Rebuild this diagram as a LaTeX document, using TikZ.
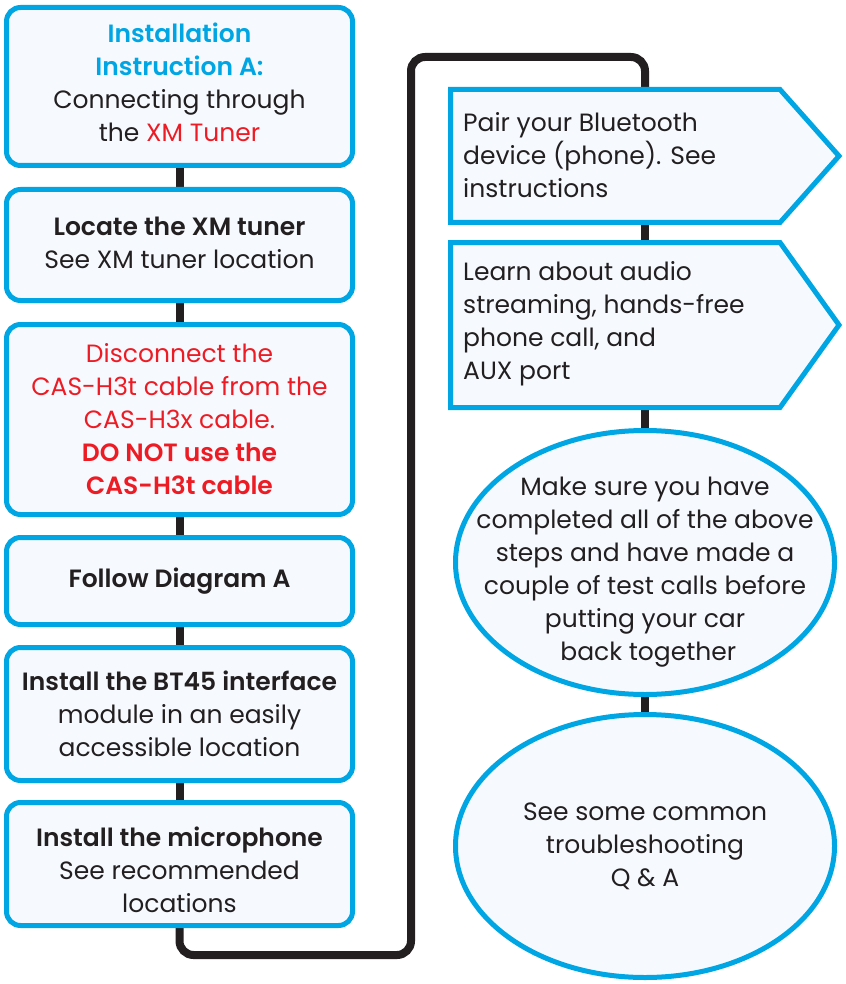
\documentclass[tikz,border=0pt]{standalone}
\usepackage{fontspec}
\setmainfont{Poppins}[BoldFont={Poppins SemiBold}]
\usetikzlibrary{shapes.geometric,backgrounds}
\definecolor{cblue}{HTML}{00A6E4}
\definecolor{cred}{HTML}{ED1C24}
\definecolor{cfill}{HTML}{F6FAFE}
\definecolor{cblack}{HTML}{231F20}
\begin{document}
\begin{tikzpicture}[x=1pt,y=-1pt,
  txt/.style={font=\fontsize{25}{33}\selectfont, text=cblack, inner sep=0pt},
  ctxt/.style={txt, align=center},
  stepbox/.style={draw=cblue, line width=5pt, fill=cfill, rounded corners=14pt,
     minimum width=346pt, inner sep=0pt, outer sep=0pt},
  flag/.style={draw=cblue, line width=5pt, fill=cfill, line join=miter},
  oval/.style={ellipse, draw=cblue, line width=5pt, fill=cfill, inner sep=0pt, outer sep=0pt},
  conn/.style={draw=cblack, line width=8pt}]
\useasboundingbox (0,0) rectangle (845,984);

% left column
\node[stepbox, minimum height=158pt] (b1) at (179.5,86.5) {};
\node[ctxt] (b1t) at (179.5,82.5)
  {\textcolor{cblue}{\bfseries Installation}\\ \textcolor{cblue}{\bfseries Instruction A:}\\ Connecting through\\ the \textcolor{cred}{XM Tuner}};
\node[stepbox, minimum height=111pt] (b2) at (179.5,245) {};
\node[ctxt] (b2t) at (179.5,243)
  {\bfseries Locate the XM tuner\\ See XM tuner location};
\node[stepbox, minimum height=190pt] (b3) at (179.5,419.5) {};
\node[ctxt, text=cred] (b3t) at (179.5,419.5)
  {Disconnect the\\ CAS-H3t cable from the\\ CAS-H3x cable.\\ \bfseries DO NOT use the\\ \bfseries CAS-H3t cable};
\node[stepbox, minimum height=87pt] (b4) at (179.5,581) {};
\node[ctxt] (b4t) at (179.5,581) {\bfseries Follow Diagram A};
\node[stepbox, minimum height=133pt] (b5) at (179.5,714) {};
\node[ctxt] (b5t) at (179.5,714)
  {\bfseries Install the BT45 interface\\ module in an easily\\ accessible location};
\node[stepbox, minimum height=123pt] (b6) at (179.5,864) {};
\node[ctxt] (b6t) at (179.5,870)
  {\bfseries Install the microphone\\ See recommended\\ locations};

% right column: flags
\draw[flag] (450.5,89.5) -- (780,89.5) -- (839,156) -- (780,222.5) -- (450.5,222.5) -- cycle;
\coordinate (p1n) at (645,89.5);
\coordinate (p1s) at (645,222.5);
\node[txt, anchor=west, align=left] (t1) at (463,155.5)
  {Pair your Bluetooth\\ device (phone). See\\ instructions};
\draw[flag] (450.5,242.5) -- (780,242.5) -- (839,325) -- (780,407.5) -- (450.5,407.5) -- cycle;
\coordinate (p2n) at (645,242.5);
\coordinate (p2s) at (645,407.5);
\node[txt, anchor=west, align=left] (t2) at (463,324)
  {Learn about audio\\ streaming, hands-free\\ phone call, and\\ AUX port};

% ovals
\node[oval, minimum width=379pt, minimum height=264pt] (e1) at (645,562.5) {};
\node[ctxt] (e1t) at (645,572)
  {Make sure you have\\ completed all of the above\\ steps and have made a\\ couple of test calls before\\ putting your car\\ \ back together};
\node[oval, minimum width=379pt, minimum height=263pt] (e2) at (645,846) {};
\node[ctxt] (e2t) at (645,846)
  {See some common\\ troubleshooting\\ Q \& A};

% connectors
\coordinate (cA) at (411,955);
\coordinate (cB) at (645,57);
\begin{scope}[on background layer]
\fill[white] (0,0) rectangle (845,984);
\draw[conn] (b1.south) -- (b2.north);
\draw[conn] (b2.south) -- (b3.north);
\draw[conn] (b3.south) -- (b4.north);
\draw[conn] (b4.south) -- (b5.north);
\draw[conn] (b5.south) -- (b6.north);
\draw[conn, rounded corners=14pt] (b6.south) |- (cA) |- (cB) -- (p1n);
\draw[conn] (p1s) -- (p2n);
\draw[conn] (p2s) -- (e1.north);
\draw[conn] (e1.south) -- (e2.north);
\end{scope}
\end{tikzpicture}
\end{document}
